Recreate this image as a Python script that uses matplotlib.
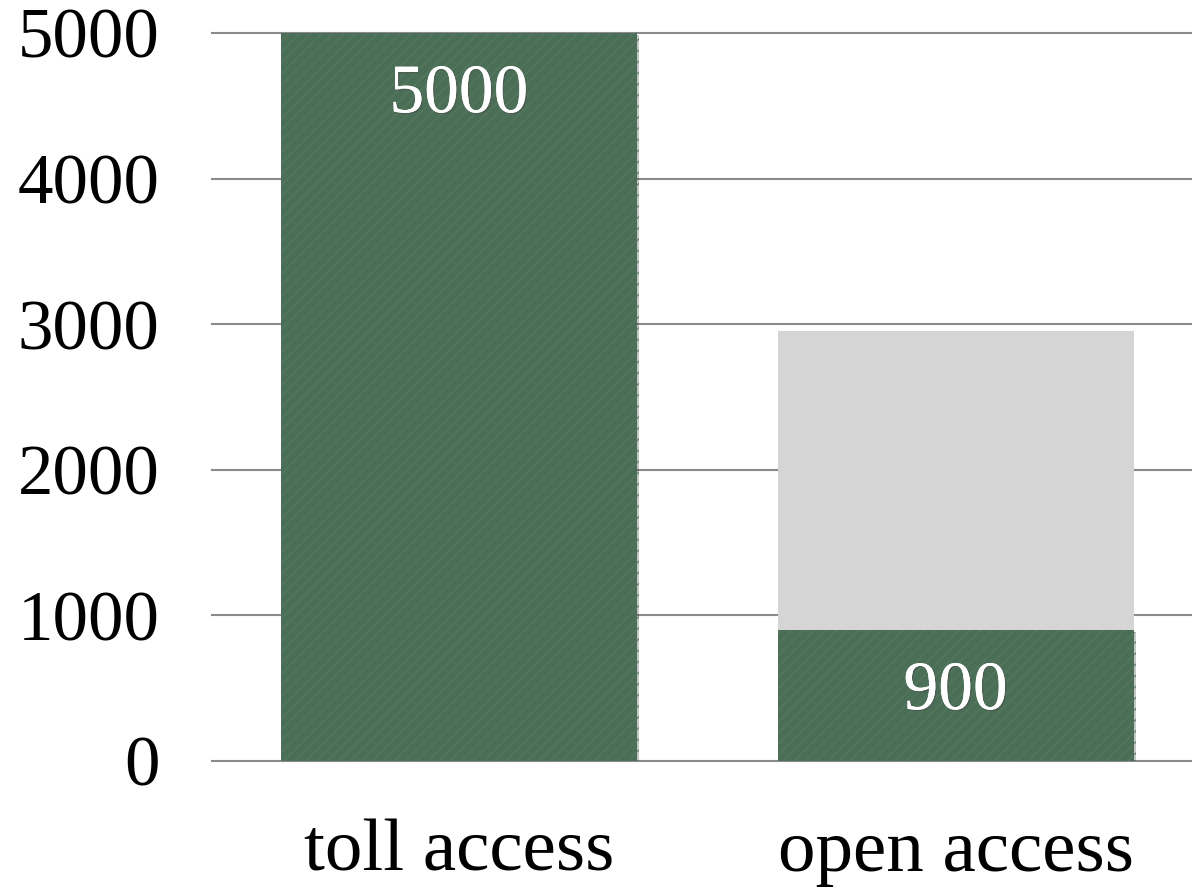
import matplotlib
matplotlib.use("Agg")
import matplotlib.pyplot as plt
import matplotlib.patheffects as pe

# ===== データ =====
categories = ["toll access", "open access"]
values = [5000, 900]          # 緑の棒
potential = [0, 2950]         # 背景のグレー棒
y_ticks = [0, 1000, 2000, 3000, 4000, 5000]

GREEN = "#4b6e56"
GREY = "#d5d5d5"

plt.rcParams["font.family"] = ["Liberation Serif", "DejaVu Serif"]
plt.rcParams["hatch.linewidth"] = 0.8

fig = plt.figure(figsize=(11.92, 8.91), dpi=100)
ax = fig.add_axes([0.178, 0.146, 0.822, 0.817])

x = range(len(categories))
w = 0.717

# グレーの背景棒
ax.bar(x, potential, width=w, color=GREY, zorder=2)

# 緑の棒（薄いハッチで質感を出す）
bars = ax.bar(x, values, width=w, color=GREEN, edgecolor="#56795f",
              hatch="///", linewidth=0, zorder=3)
for b in bars:
    b.set_path_effects([pe.withSimplePatchShadow(offset=(1.5, -1.5), alpha=0.25), pe.Normal()])

# 値ラベル
for xi, v in zip(x, values):
    ax.annotate(str(v), (xi, v), xytext=(0, -45), textcoords="offset points",
                ha="center", va="center", color="white", fontsize=50, zorder=5,
                path_effects=[pe.withSimplePatchShadow(offset=(1, -1), alpha=0.5), pe.Normal()])

ax.set_xlim(-0.497, 1.476)
ax.set_ylim(0, 5000)
ax.set_yticks(y_ticks)
ax.set_xticks(list(x))
ax.set_xticklabels(categories)
ax.tick_params(axis="both", length=0)
ax.tick_params(axis="y", pad=38, labelsize=51)
ax.tick_params(axis="x", pad=42, labelsize=54)

for s in ax.spines.values():
    s.set_visible(False)
ax.grid(axis="y", color="#8a8a8a", linewidth=1.5, zorder=1)
for gl in ax.get_ygridlines():
    gl.set_clip_on(False)
ax.set_axisbelow(True)

fig.savefig("out.png", dpi=100, facecolor="white")
